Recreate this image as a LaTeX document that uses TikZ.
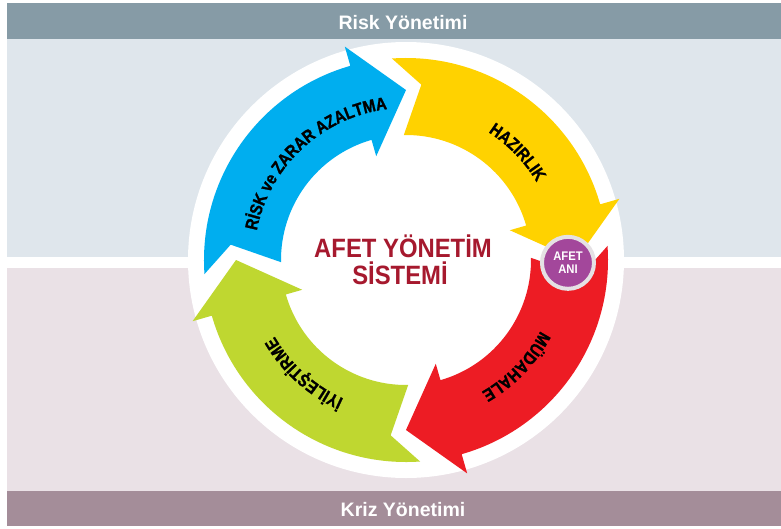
\documentclass[tikz,border=0pt]{standalone}
\usepackage{fontspec}
\usepackage{tikz}
\usetikzlibrary{decorations.text}
\setmainfont{Liberation Sans}
\newfontfamily\condfont[FakeStretch=0.9]{Liberation Sans}
\newfontfamily\heavyfont[FakeStretch=0.86,FakeBold=1.2]{Liberation Sans}
\newcommand\arcfont{\heavyfont\bfseries\fontsize{17.5}{18}\selectfont}

\definecolor{riskband}{RGB}{134,155,166}
\definecolor{riskbg}{RGB}{223,230,236}
\definecolor{krizbg}{RGB}{234,225,230}
\definecolor{krizband}{RGB}{164,141,153}
\definecolor{arrblue}{RGB}{0,174,239}
\definecolor{arryellow}{RGB}{255,210,0}
\definecolor{arrred}{RGB}{237,28,36}
\definecolor{arrgreen}{RGB}{191,215,48}
\definecolor{afetpurple}{RGB}{163,71,155}
\definecolor{afetrim}{RGB}{229,225,228}
\definecolor{titlered}{RGB}{166,25,46}

\begin{document}
\begin{tikzpicture}[x=1pt,y=1pt]
\tikzstyle{every node}+=[inner sep=0pt]
\tikzstyle{bandtext}=[text=white,font=\bfseries\fontsize{19.5}{20}\selectfont]
\tikzstyle{titletext}=[text=titlered,font=\condfont\bfseries\fontsize{26.5}{28}\selectfont]
\tikzstyle{arclabel}=[decorate,decoration={text along path,text align=center}]
\useasboundingbox (-406,-268) rectangle (375,260);
\fill [riskband] (-399,221) rectangle (375,257);
\fill [riskbg] (-399,3) rectangle (375,221);
\fill [krizbg] (-399,-8) rectangle (375,-231);
\fill [krizband] (-399,-231) rectangle (375,-266);
\node [bandtext, anchor=base] (risk) at (-3,230.7) {Risk Yönetimi};
\node [bandtext, anchor=base] (kriz) at (-3,-256.8) {Kriz Yönetimi};
\fill [white] (0,0) circle (218);
\fill [arrblue] (184:202) arc (184:106:202) -- (106:222) -- (90:170) -- (106:108) -- (106:125) arc (106:181:125) -- (175:176) -- cycle;
\fill [arryellow] (94:202) arc (94:16:202) -- (16:222) -- (0:170) -- (16:108) -- (16:125) arc (16:91:125) -- (85:176) -- cycle;
\fill [arrred] (4:202) arc (4:-74:202) -- (-74:222) -- (-90:170) -- (-74:108) -- (-74:125) arc (-74:1:125) -- (-5:176) -- cycle;
\fill [arrgreen] (274:202) arc (274:196:202) -- (196:222) -- (180:170) -- (196:108) -- (196:125) arc (196:271:125) -- (265:176) -- cycle;
\path [arclabel, decoration={text={|\arcfont|RİSK ve ZARAR AZALTMA}}] (178:152) arc (178:88:152);
\path [arclabel, decoration={text={|\arcfont|HAZIRLIK}}] (89:152) arc (89:-1:152);
\path [arclabel, decoration={text={|\arcfont|MÜDAHALE}}] (1:152) arc (1:-89:152);
\path [arclabel, decoration={text={|\arcfont|İYİLEŞTİRME}}] (273:152) arc (273:183:152);
\node [titletext, anchor=base] (title) at (-3,3) {AFET YÖNETİM};
\node [titletext, anchor=base] (subtitle) at (-6,-24) {SİSTEMİ};
\node [circle, fill=afetpurple, draw=afetrim, line width=4pt, minimum size=52pt, text=white, align=center, font=\condfont\bfseries\fontsize{12.5}{13.5}\selectfont] (afetani) at (-1:162) {AFET\\ANI};
\end{tikzpicture}
\end{document}
